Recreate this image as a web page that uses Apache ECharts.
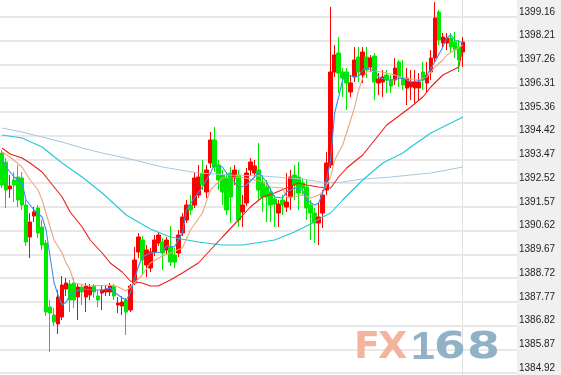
<!DOCTYPE html>
<html><head><meta charset="utf-8">
<script src="https://cdn.jsdelivr.net/npm/echarts@6/dist/echarts.min.js"></script>
<style>html,body{margin:0;padding:0;background:#fff}#c{width:561px;height:375px}</style>
</head><body><div id="c"></div>
<script>
const opens = [1393.72,1393.36,1392.28,1392.64,1392.76,1392.72,1391.64,1390.36,1391.20,1391.52,
1390.76,1390.12,1387.56,1387.24,1386.88,1387.16,1388.28,1388.48,1388.52,1387.96,
1388.36,1387.96,1388.04,1388.40,1388.00,1388.12,1388.16,1388.16,1388.40,1387.64,
1387.60,1387.84,1387.44,1388.52,1389.76,1390.24,1389.24,1389.12,1389.76,1390.12,
1390.16,1389.84,1389.96,1389.64,1389.72,1390.52,1391.04,1391.64,1391.64,1392.04,
1392.92,1392.16,1393.32,1394.24,1393.24,1392.84,1392.72,1392.92,1392.72,1392.84,
1391.36,1391.72,1393.04,1392.92,1393.04,1392.56,1392.36,1392.16,1391.88,1391.32,
1391.84,1391.56,1391.96,1392.84,1392.76,1392.52,1392.36,1391.64,1391.32,1390.92,
1391.32,1392.24,1393.24,1396.96,1397.72,1396.96,1396.96,1396.16,1396.76,1397.56,
1396.84,1397.56,1397.16,1397.60,1396.52,1396.56,1396.84,1396.64,1396.64,1397.36,
1396.72,1396.32,1396.36,1396.32,1396.32,1396.96,1396.52,1396.96,1397.52,1399.36,
1398.12,1398.12,1398.32,1398.16,1397.96,1397.76];
const closes = [1392.44,1392.24,1392.40,1392.44,1391.84,1391.64,1390.16,1390.96,1391.36,1390.52,
1390.04,1387.36,1387.32,1386.96,1387.96,1388.44,1388.52,1387.84,1387.84,1388.36,
1388.16,1388.40,1388.36,1388.16,1387.84,1388.24,1388.28,1388.40,1388.00,1387.72,
1387.76,1387.36,1388.40,1389.44,1390.36,1389.44,1389.84,1389.76,1390.24,1390.44,
1389.72,1390.24,1389.36,1389.36,1390.44,1391.16,1391.64,1391.44,1392.72,1392.76,
1392.44,1393.04,1394.24,1393.16,1392.64,1392.16,1391.44,1391.96,1393.04,1391.04,
1391.64,1392.92,1393.36,1393.20,1392.24,1391.96,1391.96,1391.64,1391.68,1391.68,
1391.64,1391.76,1392.76,1392.44,1392.12,1392.32,1391.52,1391.32,1390.92,1391.16,
1392.04,1393.32,1396.96,1397.64,1396.92,1396.72,1396.52,1396.52,1397.44,1396.96,
1397.76,1397.04,1397.52,1396.56,1396.68,1396.76,1396.64,1396.40,1397.12,1396.76,
1396.44,1396.72,1396.56,1396.56,1396.56,1396.64,1396.84,1397.52,1399.12,1398.24,
1398.36,1398.32,1397.96,1397.84,1397.44,1398.16];
const lows = [1392.32,1391.52,1391.92,1391.76,1391.56,1391.44,1390.00,1389.52,1390.96,1390.32,
1389.84,1387.20,1385.76,1386.80,1386.48,1387.04,1388.00,1387.36,1387.52,1387.04,
1387.64,1387.36,1387.84,1387.92,1387.56,1387.44,1388.00,1388.00,1387.84,1387.32,
1387.24,1386.44,1387.36,1388.44,1389.52,1388.84,1388.76,1388.96,1389.60,1390.00,
1389.04,1389.68,1389.20,1389.12,1389.56,1390.40,1390.92,1391.24,1391.52,1391.92,
1392.24,1391.92,1393.12,1392.96,1392.24,1391.64,1391.24,1390.92,1392.44,1390.76,
1390.76,1391.60,1392.84,1392.72,1391.84,1391.36,1390.96,1390.96,1390.76,1390.76,
1391.24,1391.36,1391.44,1391.84,1391.44,1392.04,1391.04,1390.24,1390.12,1390.04,
1390.72,1392.04,1393.12,1396.76,1396.12,1395.96,1395.44,1395.96,1396.56,1396.56,
1396.52,1396.72,1396.96,1395.84,1396.04,1395.96,1396.12,1396.12,1396.44,1396.36,
1396.24,1395.64,1395.84,1395.72,1395.84,1396.24,1396.16,1396.64,1397.36,1398.04,
1397.92,1397.84,1397.72,1397.52,1396.96,1397.16];
const highs = [1393.84,1393.52,1392.84,1392.96,1393.24,1392.96,1391.84,1391.32,1391.56,1391.64,
1391.04,1390.24,1387.84,1387.52,1388.24,1388.80,1388.72,1388.64,1388.72,1388.48,
1388.44,1388.52,1388.48,1388.48,1388.24,1388.44,1388.44,1388.52,1388.48,1387.96,
1388.00,1387.92,1388.48,1389.96,1390.52,1390.40,1390.04,1389.92,1390.44,1390.56,
1390.32,1390.36,1390.80,1389.92,1390.64,1391.32,1391.84,1392.04,1392.96,1393.24,
1393.44,1393.24,1394.56,1394.76,1393.44,1393.04,1392.96,1393.16,1393.24,1393.04,
1392.04,1393.12,1393.52,1393.44,1394.12,1392.84,1392.64,1392.32,1392.04,1391.84,
1392.04,1392.92,1393.04,1393.24,1393.36,1392.72,1392.64,1391.84,1391.52,1391.72,
1392.24,1393.76,1399.56,1398.04,1398.36,1397.12,1397.12,1396.84,1397.96,1397.96,
1397.96,1397.96,1397.64,1397.72,1396.92,1397.04,1397.04,1396.84,1397.52,1397.44,
1397.44,1397.12,1397.04,1397.04,1396.92,1397.36,1397.36,1397.84,1399.76,1399.44,
1398.52,1398.52,1398.52,1398.56,1398.24,1398.36];

const ma5 = [[0,1393.44],[1,1393.16],[3,1392.76],[5,1392.52],[6,1391.84],[8,1391.44],[10,1391.16],[11,1390.64],[12,1389.56],[13,1388.52],[14,1388.04],[15,1387.64],[16,1387.76],[17,1388.04],[18,1388.16],[20,1388.28],[23,1388.24],[25,1388.24],[27,1388.32],[28,1388.16],[30,1387.92],[31,1387.84],[32,1388.12],[34,1389.16],[35,1389.56],[37,1389.72],[40,1389.76],[41,1390.00],[42,1390.00],[43,1389.96],[45,1390.52],[46,1391.44],[48,1391.92],[50,1392.36],[52,1392.92],[53,1393.24],[55,1393.16],[56,1392.92],[58,1392.56],[59,1392.32],[61,1392.44],[63,1392.76],[64,1392.96],[66,1392.56],[68,1391.96],[70,1391.92],[71,1392.16],[73,1392.32],[75,1392.24],[76,1391.84],[78,1391.64],[79,1391.72],[80,1392.12],[81,1392.64],[82,1393.44],[83,1395.32],[84,1395.96],[85,1396.64],[86,1396.84],[88,1396.76],[89,1396.80],[90,1397.04],[91,1397.12],[93,1397.00],[94,1396.76],[96,1396.64],[97,1396.64],[100,1396.72],[102,1396.56],[105,1396.64],[106,1396.84],[108,1397.36],[110,1397.96],[111,1398.32],[112,1398.44],[113,1398.24],[115,1398.12]];
const ma10 = [[0,1393.76],[2,1393.56],[5,1393.16],[7,1392.64],[9,1392.24],[10,1391.84],[12,1390.76],[13,1390.24],[15,1389.72],[16,1389.32],[17,1389.04],[18,1388.52],[22,1388.40],[27,1388.44],[29,1388.36],[31,1388.20],[33,1388.52],[35,1388.84],[37,1389.32],[40,1389.60],[42,1389.72],[45,1389.92],[47,1390.64],[50,1391.32],[52,1392.24],[55,1392.72],[59,1392.76],[62,1392.68],[65,1392.56],[67,1392.36],[70,1392.32],[71,1391.96],[73,1391.96],[75,1392.04],[77,1391.92],[79,1392.04],[80,1392.16],[81,1392.44],[82,1392.76],[83,1393.44],[85,1394.04],[87,1395.04],[88,1395.56],[89,1396.24],[90,1396.72],[91,1396.96],[93,1397.00],[96,1396.92],[98,1396.84],[100,1396.72],[104,1396.64],[106,1396.76],[108,1397.16],[110,1397.44],[111,1397.64],[113,1397.84],[115,1398.04]];
const ma20 = [[0,1393.92],[2,1393.68],[5,1393.52],[7,1393.32],[10,1392.96],[12,1392.56],[15,1391.96],[17,1391.36],[20,1390.76],[22,1390.24],[25,1389.72],[27,1389.32],[30,1388.96],[32,1388.60],[35,1388.52],[37,1388.40],[39,1388.40],[42,1388.64],[45,1388.92],[49,1389.32],[52,1389.84],[55,1390.36],[59,1391.04],[62,1391.56],[65,1391.96],[68,1392.12],[71,1392.32],[74,1392.52],[76,1392.44],[79,1392.36],[82,1392.32],[84,1392.76],[86,1393.12],[90,1393.64],[93,1394.24],[96,1394.84],[100,1395.32],[102,1395.56],[105,1395.96],[107,1396.36],[110,1396.84],[114,1397.16],[115,1397.96]];
const ma60 = [[0,1394.44],[5,1394.32],[10,1393.96],[15,1393.32],[20,1392.76],[25,1392.12],[31,1391.24],[37,1390.68],[42,1390.36],[49,1390.16],[55,1390.04],[60,1390.04],[65,1390.16],[68,1390.24],[73,1390.56],[77,1390.88],[80,1391.16],[82,1391.32],[85,1391.84],[90,1392.64],[95,1393.32],[100,1393.72],[102,1393.96],[107,1394.52],[111,1394.84],[115,1395.16]];
const ma120 = [[0,1394.72],[5,1394.56],[10,1394.36],[15,1394.16],[20,1393.92],[25,1393.72],[32,1393.48],[40,1393.16],[49,1392.92],[57,1392.84],[65,1392.80],[75,1392.68],[81,1392.52],[85,1392.56],[90,1392.68],[97,1392.76],[107,1392.92],[115,1393.16]];

const yTickLabels = ['1384.92','1385.87','1386.82','1387.77','1388.72','1389.67','1390.62','1391.57','1392.52','1393.47','1394.42','1395.36','1396.31','1397.26','1398.21','1399.16'];
const yMin = 1384.92, yMax = 1399.16;
const yStep = (yMax - yMin) / (yTickLabels.length - 1);
const slotCount = 129;
const categories = Array.from({length: slotCount}, (_, i) => String(i));
const candleData = opens.map((o, i) => [o, closes[i], lows[i], highs[i]]);
const lastIdx = opens.length - 1;

const chart = echarts.init(document.getElementById('c'), null, {renderer: 'canvas'});
function maLine(data, color) {
  return {type: 'line', data: data, symbol: 'none', showSymbol: false, silent: true, z: 4,
    lineStyle: {color: color, width: 1.1}, animation: false};
}
const wmFont = 'bold 38px "DejaVu Sans"';
chart.setOption({
  animation: false,
  backgroundColor: '#ffffff',
  grid: {left: 0, right: 44, top: 17, bottom: 2},
  xAxis: {type: 'category', data: categories, boundaryGap: true,
    axisLine: {show: false}, axisTick: {show: false}, axisLabel: {show: false}, splitLine: {show: false}},
  yAxis: {type: 'value', position: 'right', min: yMin, max: yMax, interval: yStep, scale: true,
    axisLine: {show: false}, axisTick: {show: false},
    splitLine: {show: true, lineStyle: {color: '#e8e8e8', width: 2}},
    axisLabel: {margin: 2, verticalAlign: 'bottom', fontSize: 10, color: '#222',
      fontFamily: 'Liberation Sans, Arial, sans-serif',
      formatter: v => yTickLabels[Math.round((v - yMin) / yStep)] || ''}},
  graphic: [
    {type: 'rect', z: -10, silent: true, shape: {x: 517, y: 0, width: 44, height: 375}, style: {fill: '#f0f0f0'}},
    {type: 'line', z: -5, silent: true, shape: {x1: 462.5, y1: 0, x2: 462.5, y2: 375}, style: {stroke: '#dedede', lineWidth: 1}},
    {type: 'text', z: 1, silent: true, x: 354, y: 348, style: {text: 'F', font: wmFont, fill: '#f3b49c', verticalAlign: 'middle', align: 'left'}},
    {type: 'text', z: 1, silent: true, x: 378, y: 348, style: {text: 'X', font: wmFont, fill: '#f3b49c', verticalAlign: 'middle', align: 'left'}},
    {type: 'text', z: 1, silent: true, x: 411, y: 348, scaleX: 1.1, style: {text: '1', font: 'bold 39px "Liberation Sans"', fill: '#90b1c6', verticalAlign: 'middle', align: 'left'}},
    {type: 'text', z: 1, silent: true, x: 434, y: 348, scaleX: 1.2, style: {text: '6', font: wmFont, fill: '#90b1c6', verticalAlign: 'middle', align: 'left'}},
    {type: 'text', z: 1, silent: true, x: 467, y: 348, scaleX: 1.25, style: {text: '8', font: wmFont, fill: '#90b1c6', verticalAlign: 'middle', align: 'left'}}
  ],
  series: [
    {type: 'candlestick', data: candleData, barWidth: 4, clip: false, z: 3,
      itemStyle: {color: '#ff0000', color0: '#00e800', borderColor: '#ff0000', borderColor0: '#00e800', borderWidth: 1}},
    maLine(ma120, '#a9c9df'),
    maLine(ma60, '#22c8d2'),
    maLine(ma20, '#ee1c1c'),
    maLine(ma10, '#eaa77d'),
    maLine(ma5, '#3a8ff0')
  ]
});
</script></body></html>
